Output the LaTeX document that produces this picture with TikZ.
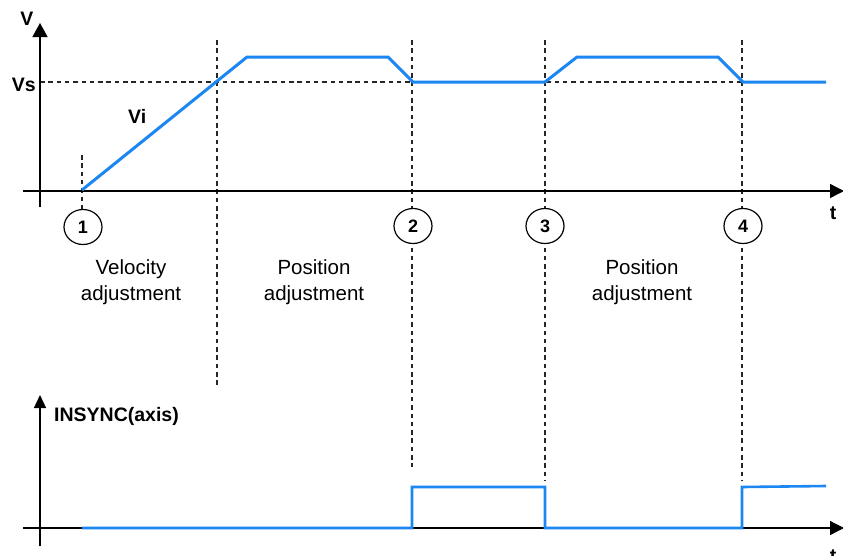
\documentclass[tikz,border=0pt]{standalone}
\usepackage{fontspec}
\setmainfont{Liberation Sans}
\usetikzlibrary{arrows.meta,shapes.geometric}
\definecolor{speedblue}{RGB}{28,134,242}
\begin{document}
\begin{tikzpicture}[x=1pt,y=-1pt,
  axis/.style={line width=1.3pt,-{Triangle[length=14pt,width=14pt]}},
  guide/.style={line width=1.1pt,dash pattern=on 4.5pt off 3.8pt,black!85},
  profile/.style={line width=3pt,speedblue},
  marker/.style={ellipse,draw,line width=1.2pt,fill=white,minimum width=38pt,
    minimum height=35pt,inner sep=0pt,font=\fontsize{18}{18}\selectfont\bfseries},
  lbl/.style={font=\fontsize{19.5}{20}\selectfont\bfseries,inner sep=0pt},
  phase/.style={font=\fontsize{20.5}{24}\selectfont,inner sep=0pt,anchor=base}
]
\useasboundingbox (0,0) rectangle (843,555);

% phase boundaries and set-speed level
\draw[guide] (82,155) -- (82,212);
\draw[guide] (217,40) -- (217,388);
\draw[guide] (412,40) -- (412,467);
\draw[guide] (545,40) -- (545,480);
\draw[guide] (742,40) -- (742,480);
\draw[guide] (40,82) -- (826,82);

% velocity diagram axes
\coordinate (vO) at (40,207);
\coordinate (vTop) at (40,23);
\coordinate (tL) at (23,191);
\coordinate (tR) at (844,191);
\draw[axis,-{Triangle[length=14pt,width=15pt]}] (vO) -- (vTop);
\draw[axis] (tL) -- (tR);

% INSYNC diagram axes
\coordinate (sO) at (40,546);
\coordinate (sTop) at (40,395);
\coordinate (sL) at (23,528);
\coordinate (sR) at (844,528);
\draw[axis,-{Triangle[length=13pt,width=12pt]}] (sO) -- (sTop);
\draw[axis] (sL) -- (sR);

% velocity profile
\draw[profile] (82,190) -- (247,57) -- (388,57) -- (413,82) -- (545,82)
  -- (577,57) -- (718,57) -- (743,82) -- (826,82);

% INSYNC signal
\draw[profile,line width=2.6pt] (82,528) -- (412,528) -- (412,487) -- (545,487)
  -- (545,528) -- (742,528) -- (742,487) -- (826,486);

% event markers
\node[marker] (m1) at (83,227) {1};
\node[marker] (m2) at (413,226) {2};
\node[marker] (m3) at (545,226) {3};
\node[marker] (m4) at (743,226) {4};

% axis labels
\node[lbl,anchor=base] (lV) at (27,25) {V};
\node[lbl,anchor=base east] (lVs) at (36,91) {Vs};
\node[lbl,anchor=base west] (lVi) at (128,123) {Vi};
\node[lbl,anchor=base] (lt1) at (833,219) {t};
\node[lbl,anchor=base west] (lIn) at (54,421) {INSYNC(axis)};
\node[lbl,anchor=base] (lt2) at (833,562) {t};

% phase names
\node[phase] (p1a) at (131,274) {Velocity};
\node[phase] (p1b) at (131,300) {adjustment};
\node[phase] (p2a) at (314,274) {Position};
\node[phase] (p2b) at (314,300) {adjustment};
\node[phase] (p3a) at (642,274) {Position};
\node[phase] (p3b) at (642,300) {adjustment};
\end{tikzpicture}
\end{document}
